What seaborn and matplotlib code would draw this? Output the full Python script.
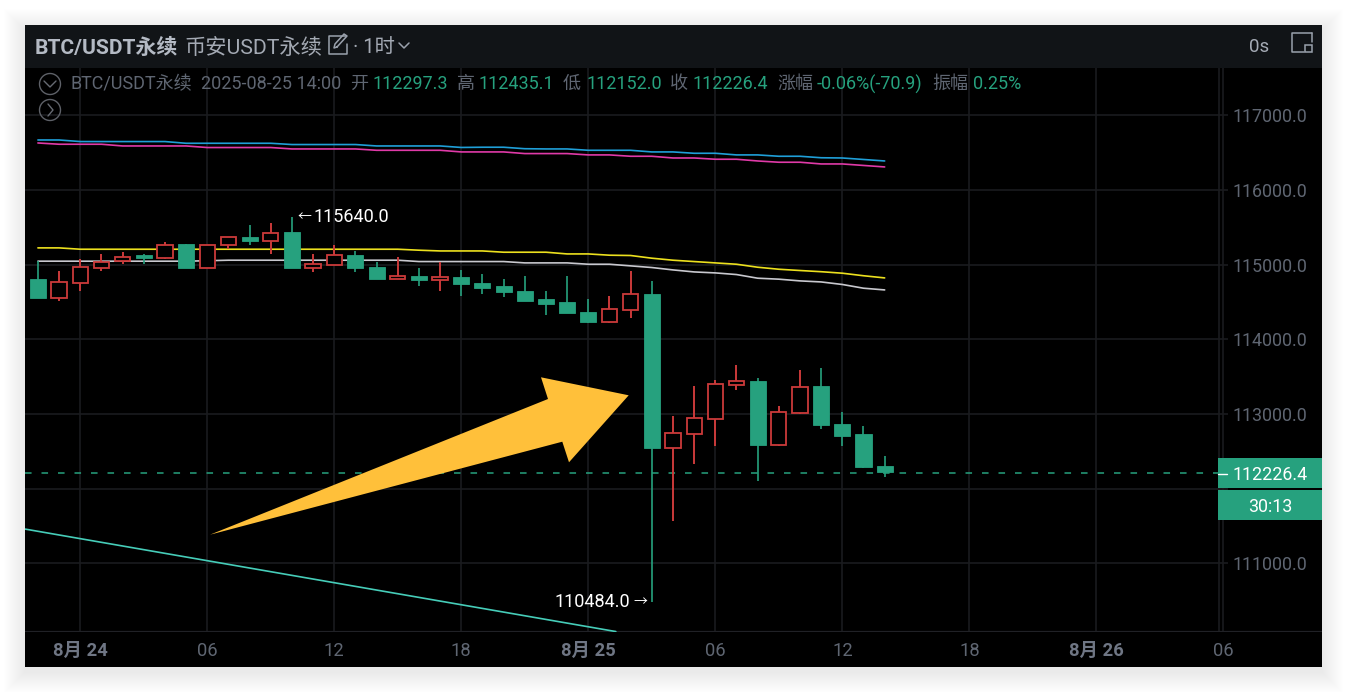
import numpy as np
import pandas as pd
import seaborn as sns
import matplotlib
matplotlib.use("Agg")
import matplotlib.pyplot as plt
from matplotlib.patches import Rectangle, Polygon
from matplotlib.lines import Line2D

# ---- data ----
opens = [114814,114554,114760,114956,115050,115130,115095,115273,114956,115260,115376,115317,115434,114956,114996,
         115135,114969,114814,114854,114791,114831,114751,114711,114653,114533,114493,114367,114233,114394,114613,
         112546,112725,112926,113390,113448,112586,113011,113368,112863,112725,112297.3]
highs = [115045,114912,115072,115139,115170,115139,115304,115273,115269,115376,115527,115554,115640,115139,115264,
         115183,115041,115103,114952,115036,114934,114871,114805,114849,114644,114849,114533,114573,114921,114782,
         112967,113372,113457,113649,113479,113100,113590,113622,113020,112833,112435.1]
lows = [114554,114514,114653,114912,115009,115009,115072,114956,114956,115206,115260,115139,114950,114902,114996,
        114902,114810,114814,114720,114644,114577,114608,114564,114510,114327,114353,114220,114220,114286,110484,
        111565,112332,112569,113319,112104,112569,113000,112801,112569,112280,112152.0]
closes = [114554,114768,114969,115036,115108,115090,115269,114956,115269,115370,115317,115430,114956,115009,115130,
          114952,114814,114854,114791,114831,114734,114688,114631,114510,114470,114353,114229,114403,114604,112542,
          112739,112940,113403,113443,112582,113020,113363,112846,112703,112284,112226.4]
ma_blue = [116669,116669,116648,116648,116648,116648,116648,116625,116625,116625,116625,116625,116608,116608,116608,
           116608,116589,116589,116589,116589,116569,116572,116572,116552,116549,116549,116531,116531,116531,116509,
           116509,116491,116491,116469,116469,116451,116451,116431,116428,116408,116388]
ma_pink = [116629,116612,116612,116612,116589,116589,116589,116589,116568,116568,116568,116568,116549,116549,116549,
           116549,116531,116531,116531,116531,116509,116509,116509,116487,116487,116487,116469,116469,116451,116451,
           116428,116428,116411,116411,116388,116371,116371,116348,116348,116328,116308]
ma_yellow = [115224,115224,115206,115206,115206,115206,115206,115206,115206,115206,115206,115206,115206,115206,115206,
             115206,115206,115206,115193,115183,115183,115183,115166,115166,115166,115143,115143,115126,115122,115086,
             115059,115041,115023,115005,114965,114938,114921,114905,114885,114851,114822]
ma_white = [115046,115046,115046,115046,115046,115046,115046,115046,115052,115059,115059,115059,115059,115059,115059,
            115059,115059,115059,115041,115041,115041,115041,115041,115023,115023,115023,115005,115005,114983,114961,
            114929,114902,114889,114867,114818,114805,114782,114768,114734,114684,114661]
trend_idx = [-0.6, 27.3]
trend_price = [111458, 110086]
price_ticks = [111000,112000,113000,114000,115000,116000,117000]
time_ticks = [2,8,14,20,26,32,38,44,50,56]
time_labels = ["8月 24","06","12","18","8月 25","06","12","18","8月 26","06"]
bold_labels = {"8月 24","8月 25","8月 26"}
last_price = 112226.4
high_label, high_idx = 115640.0, 12
low_label, low_idx = 110484.0, 29

# ---- style ----
W, H = 1347, 692
sns.set_theme(style="dark")
FONT = ["Roboto", "Noto Sans CJK SC", "DejaVu Sans"]
plt.rcParams["font.family"] = FONT
GREEN, RED = "#26a17e", "#cb3a3a"
GRID, HEAD = "#1a1b1f", "#111417"
GREY, TXT = "#5f6672", "#6f7684"
XL = (-0.61, 60.66)
YL = (110080, 117633)

fig = plt.figure(figsize=(W/100, H/100), dpi=100, facecolor="white")

def fx(x): return x / W
def fy(y): return 1 - y / H
def rect(x0, y0, x1, y1, **kw):
    p = Rectangle((fx(x0), fy(y1)), (x1-x0)/W, (y1-y0)/H, transform=fig.transFigure, **kw)
    fig.add_artist(p); return p
def line(xs, ys, color, lw=1.2):
    fig.add_artist(Line2D([fx(x) for x in xs], [fy(y) for y in ys], color=color, lw=lw,
                          transform=fig.transFigure, solid_capstyle="round"))
def label(x, y, s, color=TXT, size=12.9, ha="left", weight="normal"):
    fig.text(fx(x), fy(y), s, color=color, fontsize=size, ha=ha, va="center_baseline",
             fontweight=weight, family=FONT, zorder=20)

# soft shadow around the panel
for k in range(1, 22):
    rect(25-k, 25-k+5, 1322+k, 667+k+5, fc="black", ec="none", alpha=0.0032, zorder=-5)
rect(25, 25, 1322, 667, fc="black", ec="none", zorder=-1)

# ---- main axes: panel from x 25..1322, y 68..632 ----
ax = fig.add_axes([fx(25), fy(632), (1322-25)/W, (632-68)/H])
ax.set_facecolor("black")
for s in ax.spines.values():
    s.set_visible(False)
px = lambda x: (x - 37) / 21.17

ax.set_axisbelow(True)
ax.set_xticks(time_ticks)
ax.set_xticklabels(time_labels)
ax.set_yticks(price_ticks)
ax.set_yticklabels([f"{v:.1f}" if v != 112000 else "" for v in price_ticks])
ax.tick_params(axis="x", length=0, pad=7, labelsize=13.2, colors=TXT)
ax.tick_params(axis="y", length=0, labelleft=False, labelright=True, pad=-64.5, labelsize=12.9, colors=GREY)
for t in ax.get_xticklabels():
    if t.get_text() in bold_labels:
        t.set_fontweight("bold")
    t.set_color(GREY if t.get_text() not in bold_labels else TXT)
ax.grid(False)
ax.vlines(time_ticks, YL[0], YL[1], color=GRID, lw=1.2, zorder=0)
ax.vlines(px(1218), YL[0], YL[1], color=GRID, lw=1.2, zorder=0)
ax.hlines(price_ticks, XL[0], px(1227), color=GRID, lw=1.2, zorder=0)
ax.axhline(YL[0], color="#202126", lw=1.6, zorder=1)

# moving averages and trend line
idx = np.arange(len(opens))
df = pd.DataFrame(dict(i=idx, o=opens, h=highs, l=lows, c=closes,
                       blue=ma_blue, pink=ma_pink, yellow=ma_yellow, white=ma_white))
for col, colr in [("blue", "#1f9fd8"), ("pink", "#e03aa8"), ("yellow", "#ece01e"), ("white", "#c8c8ce")]:
    sns.lineplot(data=df, x="i", y=col, ax=ax, color=colr, lw=1.2, legend=False, zorder=3)
sns.lineplot(x=trend_idx, y=trend_price, ax=ax, color="#46cdb9", lw=1.2, legend=False, zorder=3)
ax.set_xlabel(""); ax.set_ylabel("")
ax.set_xlim(*XL)
ax.set_ylim(*YL)

# candles: falling = filled green, rising = hollow red
down = df[df.c < df.o]
up = df[df.c >= df.o]
ax.vlines(down.i, down.l, down.h, color=GREEN, lw=1.2, zorder=4)
ax.vlines(up.i, up.l, up.h, color=RED, lw=1.4, zorder=4)
ax.bar(down.i, down.o - down.c, bottom=down.c, width=0.76, color=GREEN, edgecolor=GREEN, lw=0.6, zorder=5)
ax.bar(up.i, up.c - up.o, bottom=up.o, width=0.72, color="black", edgecolor=RED, lw=1.3, zorder=5)

# last price line
ax.hlines(last_price - 12, XL[0], px(1218), color=GREEN, lw=1.1, linestyles=(0, (4.3, 6.5)), zorder=2)

# extreme labels
ax.annotate("←", (high_idx, high_label), xytext=(4, 0), textcoords="offset points",
            color="white", fontsize=10, va="center", ha="left", zorder=8, family=FONT)
ax.annotate(f"{high_label:.1f}", (high_idx, high_label), xytext=(15.5, 0), textcoords="offset points",
            color="white", fontsize=13, va="center", ha="left", zorder=8, family=FONT)
ax.annotate("→", (low_idx, low_label), xytext=(-3.5, 0), textcoords="offset points",
            color="white", fontsize=10, va="center", ha="right", zorder=8, family=FONT)
ax.annotate(f"{low_label:.1f}", (low_idx, low_label), xytext=(-15.5, 0), textcoords="offset points",
            color="white", fontsize=13, va="center", ha="right", zorder=8, family=FONT)

# ---- header ----
rect(25, 25, 1322, 68, fc=HEAD, ec="none", zorder=2)
label(35, 46, "BTC/USDT永续", color="#b4bac4", size=15.1, weight="bold")
label(184, 46, "币安USDT永续", color="#a4aab4", size=15.3)
label(353, 46, "· 1时", color="#a4aab4", size=14.6)
label(1249, 45, "0s", color="#a4aab4", size=13.5)
# edit icon, dropdown chevron, layout icon
line([346, 329, 329, 347, 347], [36, 36, 54, 54, 44], "#9aa1ac", 1.1)
line([337, 347, 344, 335, 334, 337], [47, 36, 34, 44, 48, 47], "#9aa1ac", 1.1)
line([399, 404, 409], [43, 48, 43], "#9aa1ac", 1.1)
line([1312, 1292, 1292, 1304], [33, 33, 52, 52], "#9aa1ac", 1.1)
line([1312, 1312], [33, 42], "#9aa1ac", 1.1)
fig.add_artist(Rectangle((fx(1305), fy(52)), 7/W, 7/H, transform=fig.transFigure, fc="none", ec="#9aa1ac", lw=1.1, zorder=3))

# ---- legend row ----
for cy, pts in [(84, ([44, 50, 56], [81, 87, 81])), (110, ([48, 53, 48], [104, 110, 116]))]:
    fig.add_artist(Line2D([fx(x) for x in pts[0]], [fy(y) for y in pts[1]], color="#666a72", lw=1.0,
                          transform=fig.transFigure, zorder=4))
    fig.add_artist(Polygon(np.column_stack([fx(50) + 10.5*np.cos(np.linspace(0, 2*np.pi, 60))/W,
                                            fy(cy) + 10.5*np.sin(np.linspace(0, 2*np.pi, 60))/H]),
                           closed=True, transform=fig.transFigure, fc="none", ec="#5e6168", lw=1.0, zorder=4))
for x, s, c in [(71, "BTC/USDT永续", GREY), (201, "2025-08-25 14:00", GREY), (350, "开", GREY),
                (373, "112297.3", GREEN), (457, "高", GREY), (479, "112435.1", GREEN), (563, "低", GREY),
                (586, "112152.0", GREEN), (670, "收", GREY), (693, "112226.4", GREEN), (777, "涨幅", GREY),
                (817, "-0.06%(-70.9)", GREEN), (932, "振幅", GREY), (973, "0.25%", GREEN)]:
    label(x, 82, s, color=c, size=13)

# ---- price tags ----
rect(1218, 458, 1322, 488, fc=GREEN, ec="none", zorder=6)
rect(1218, 490, 1322, 519.5, fc=GREEN, ec="none", zorder=6)
fig.add_artist(Line2D([fx(1218), fx(1227)], [fy(473.5), fy(473.5)], color="white", lw=1.0,
                      transform=fig.transFigure, zorder=7))
label(1233, 473.5, f"{last_price:.1f}", color="white", size=12.9)
label(1270, 505, "30:13", color="white", size=12.9, ha="center")

# ---- hand-drawn arrow overlay ----
arrow = [(210, 534.7), (548, 399), (541, 377.3), (628.7, 395.3), (569, 462.3), (562.3, 441.7)]
fig.add_artist(Polygon([(fx(x), fy(y)) for x, y in arrow], closed=True, transform=fig.transFigure,
                       fc="#ffc03a", ec="none", zorder=9))

fig.savefig("out.png", dpi=100, facecolor="white")
